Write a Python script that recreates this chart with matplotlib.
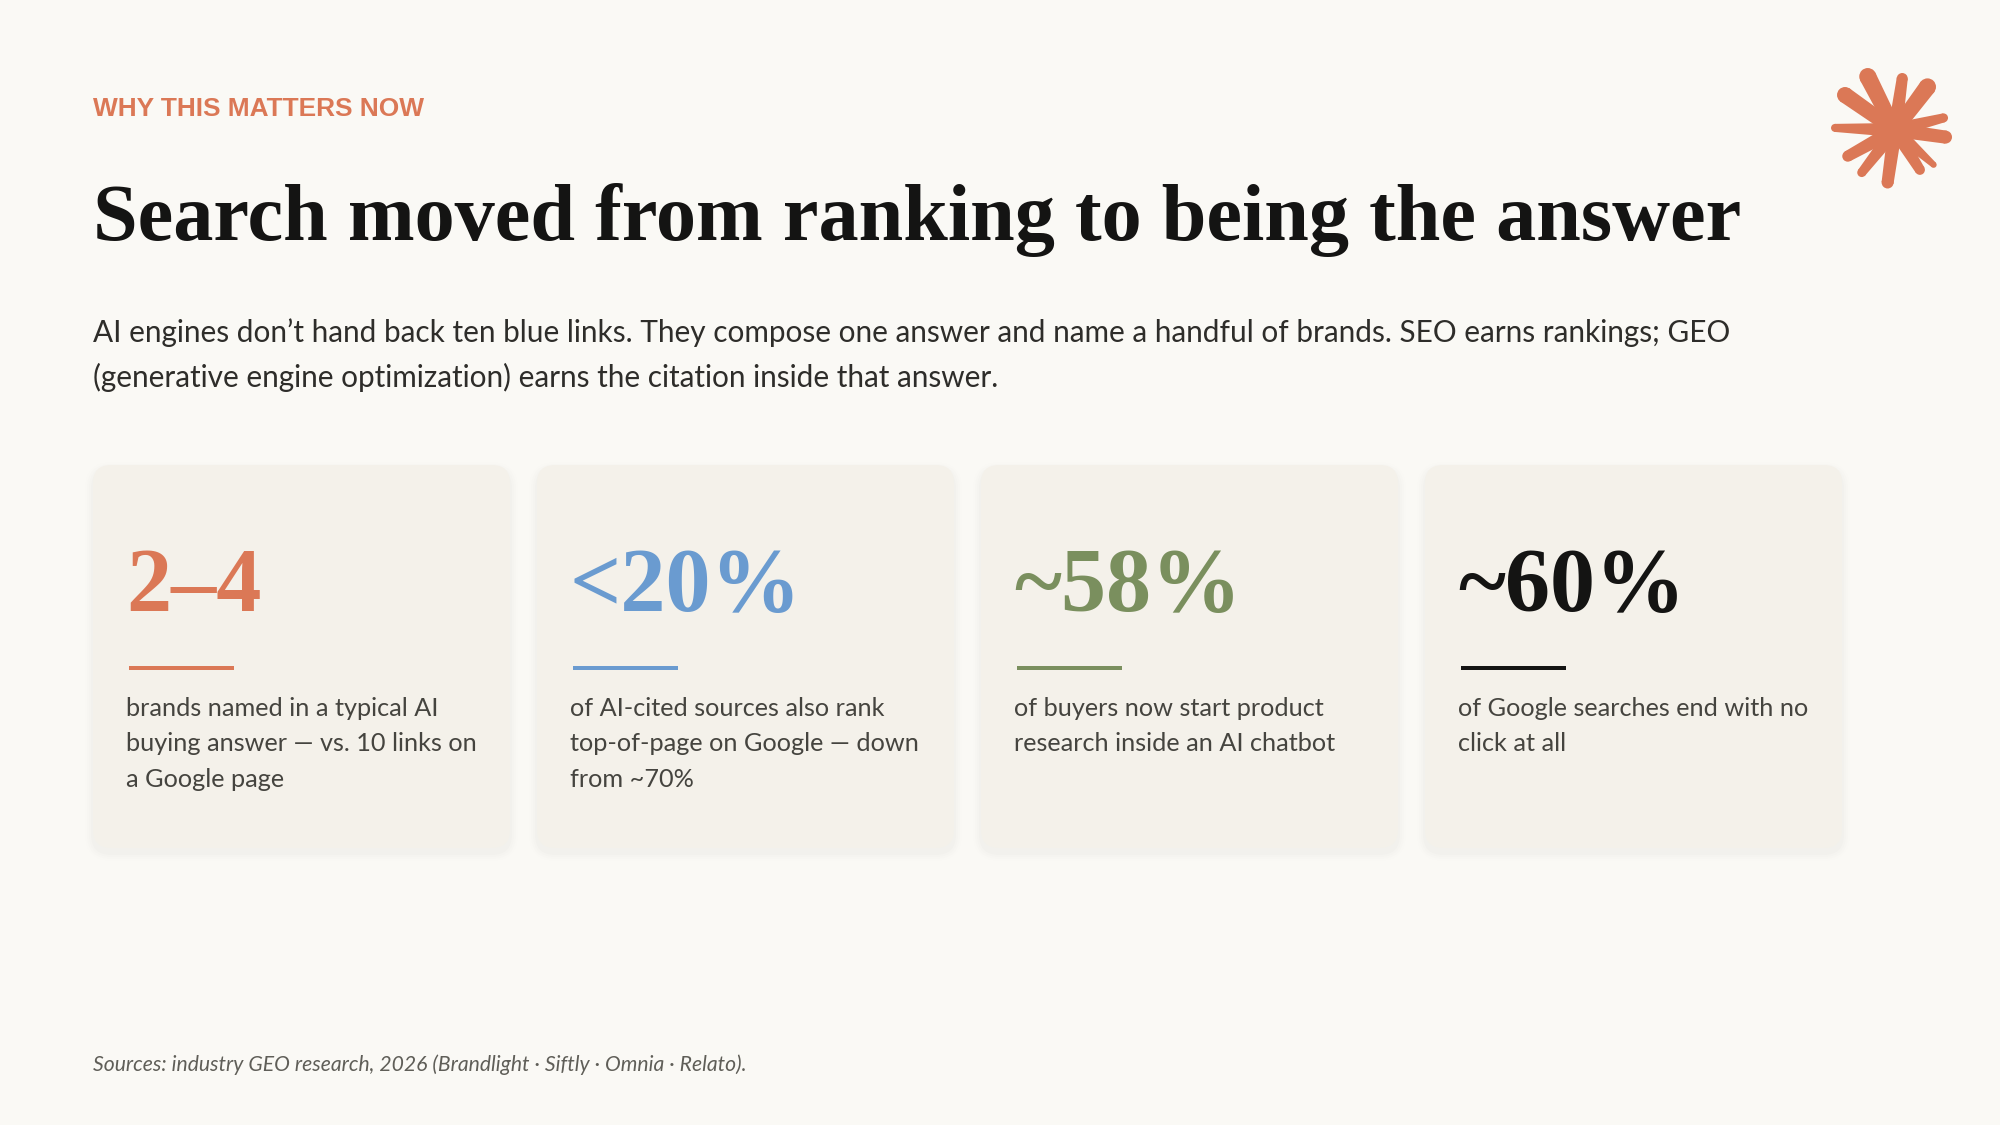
import numpy as np
import matplotlib
matplotlib.use("Agg")
import matplotlib.pyplot as plt
from matplotlib.patches import FancyBboxPatch, Polygon, Circle, Rectangle

BG = "#FAF9F5"
CARD = "#F4F1EA"
ORANGE = "#DB7856"
BLUE = "#6A9BD0"
GREEN = "#7A8F5E"
BLACK = "#141413"
BODY = "#45443F"

eyebrow = "WHY THIS MATTERS NOW"
title = "Search moved from ranking to being the answer"
intro = [
    "AI engines don\u2019t hand back ten blue links. They compose one answer and name a handful of brands. SEO earns rankings; GEO",
    "(generative engine optimization) earns the citation inside that answer.",
]
numbers = ["2\u20134", "<20%", "~58%", "~60%"]
colors = [ORANGE, BLUE, GREEN, BLACK]
captions = [
    ["brands named in a typical AI", "buying answer \u2014 vs. 10 links on", "a Google page"],
    ["of AI-cited sources also rank", "top-of-page on Google \u2014 down", "from ~70%"],
    ["of buyers now start product", "research inside an AI chatbot"],
    ["of Google searches end with no", "click at all"],
]
source = "Sources: industry GEO research, 2026 (Brandlight \u00b7 Siftly \u00b7 Omnia \u00b7 Relato)."

# star rays: angle (deg, clockwise from up), length, tip width
ray_angle = [-27, 8, 37, 76, 98, 132, 148, 188, 218, 241, 272, 305]
ray_len = [60, 52, 54, 50, 51, 52, 47, 53, 54, 54, 60, 61]
ray_tip = [15, 9, 15, 7, 11, 4, 8, 10, 7, 9, 6, 14]

fig = plt.figure(figsize=(20, 11.25), dpi=100, facecolor=BG)
ax = fig.add_axes([0, 0, 1, 1])
ax.set_xlim(0, 2000)
ax.set_ylim(1125, 0)
ax.axis("off")

SANS = ["Lato", "DejaVu Sans"]
SERIF = ["Liberation Serif", "DejaVu Serif"]

ax.text(93, 116, eyebrow, color=ORANGE, fontsize=18.9, fontweight="bold",
        family="Liberation Sans", va="baseline")
ax.text(93, 240, title, color=BLACK, fontsize=57.8, fontweight="bold",
        family=SERIF, va="baseline")
for i, line in enumerate(intro):
    ax.text(93, 342 + i * 45, line, color="#2E2D2A", fontsize=21.4, family=SANS, va="baseline")

card_w = 417
card_h = 383
for i in range(4):
    x = 93 + i * 444
    y = 465
    # soft shadow
    for grow, a in zip([8, 6, 4, 2], [0.004, 0.006, 0.008, 0.010]):
        ax.add_patch(FancyBboxPatch((x - grow, y + 5 - grow), card_w + 2 * grow, card_h + 2 * grow,
                                    boxstyle="round,pad=0,rounding_size=%d" % (18 + grow),
                                    linewidth=0, facecolor="black", alpha=a, zorder=1))
    ax.add_patch(FancyBboxPatch((x, y), card_w, card_h, boxstyle="round,pad=0,rounding_size=18",
                                linewidth=0, facecolor=CARD, zorder=2))
    ax.text(x + 33, 611, numbers[i], color=colors[i], fontsize=65, fontweight="bold",
            family=SERIF, va="baseline", zorder=3)
    ax.add_patch(Rectangle((x + 36, 666), 105, 4, linewidth=0, facecolor=colors[i], zorder=3))
    for j, line in enumerate(captions[i]):
        ax.text(x + 33, 716 + j * 35.3, line, color=BODY, fontsize=18.2, family=SANS,
                va="baseline", zorder=3)

ax.text(93, 1071, source, color="#5F5E58", fontsize=15.2, style="italic", family=SANS, va="baseline")

# star mark
cx, cy = 1895, 130
for ang, length, tip in zip(ray_angle, ray_len, ray_tip):
    t = np.radians(ang)
    d = np.array([np.sin(t), -np.cos(t)])
    n = np.array([d[1], -d[0]])
    c = np.array([cx, cy])
    e = c + d * length
    ax.add_patch(Polygon([c - n * 6, e - n * tip / 2, e + n * tip / 2, c + n * 6], closed=True,
                         facecolor=ORANGE, edgecolor=ORANGE, linewidth=1.5, joinstyle="round", zorder=4))
    ax.add_patch(Circle(tuple(e), tip / 2 + 1, facecolor=ORANGE, linewidth=0, zorder=4))
ax.add_patch(Circle((cx, cy), 18, facecolor=ORANGE, linewidth=0, zorder=4))

fig.savefig("out.png", dpi=100, facecolor=BG)
